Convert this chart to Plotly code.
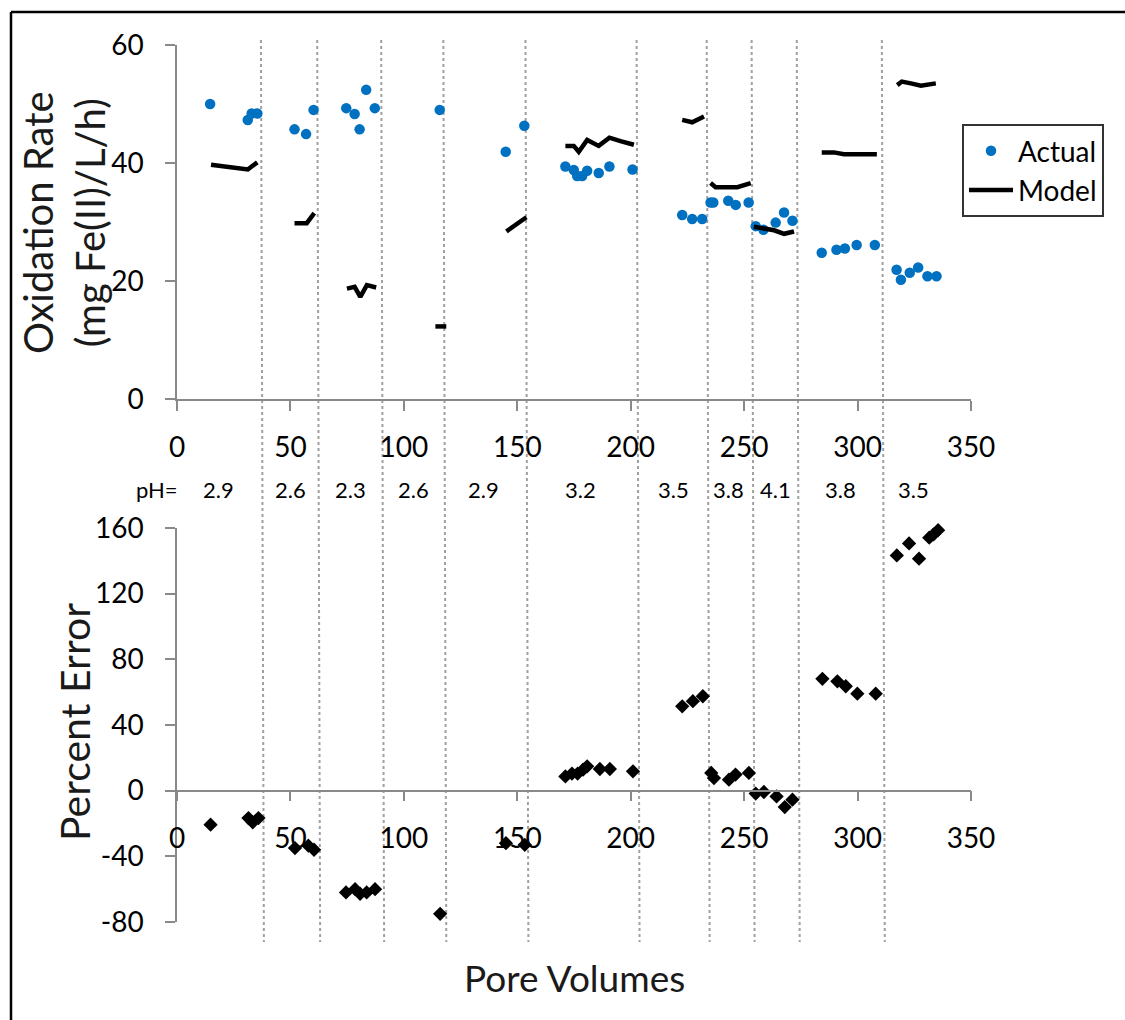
import plotly.graph_objects as go

# ---------------- data ----------------
actual_x = [14.6, 31.2, 32.9, 35.4, 51.8, 56.9, 60.2, 74.6, 78.3, 80.5, 83.4, 87.2, 115.8,
            144.9, 153.1, 171.2, 174.9, 176.4, 178.6, 180.8, 185.9, 190.6, 200.8, 222.7,
            227.1, 231.5, 235.2, 236.4, 243.0, 246.3, 252.0, 255.1, 258.5, 263.9, 267.6,
            271.3, 284.2, 290.7, 294.4, 299.6, 307.6, 317.2, 319.1, 323.0, 326.7, 330.8, 334.8]
actual_y = [50.0, 47.3, 48.4, 48.4, 45.7, 44.9, 49.0, 49.3, 48.3, 45.7, 52.4, 49.3, 49.0,
            41.9, 46.3, 39.4, 38.8, 37.8, 37.8, 38.7, 38.3, 39.4, 38.9, 31.2,
            30.5, 30.5, 33.3, 33.3, 33.6, 32.9, 33.3, 29.3, 28.7, 29.9, 31.6,
            30.2, 24.8, 25.3, 25.5, 26.1, 26.1, 21.9, 20.2, 21.4, 22.3, 20.8, 20.8]

model_x = [15.0, 31.2, 32.9, 35.4, None,
           51.8, 57.2, 60.5, None,
           74.9, 78.3, 80.8, 83.7, 87.8, None,
           113.9, 118.7, None,
           145.2, 154.0, None,
           171.2, 174.9, 177.1, 180.8, 185.9, 190.6, 195.5, 201.4, None,
           222.7, 227.1, 232.3, None,
           235.2, 237.4, 247.0, 252.9, None,
           254.3, 258.5, 263.2, 267.6, 272.0, None,
           284.2, 289.6, 294.0, 308.5, None,
           317.5, 319.5, 323.5, 327.9, 334.5]
model_y = [39.7, 38.9, 39.4, 40.1, None,
           29.8, 29.8, 31.5, None,
           18.7, 19.0, 17.3, 19.3, 18.9, None,
           12.3, 12.3, None,
           28.4, 30.8, None,
           42.9, 42.9, 41.9, 43.9, 42.9, 44.3, 43.7, 43.1, None,
           47.3, 46.9, 47.9, None,
           36.6, 35.9, 35.9, 36.6, None,
           29.2, 28.9, 28.6, 28.0, 28.4, None,
           41.8, 41.8, 41.5, 41.5, None,
           53.2, 53.8, 53.5, 53.1, 53.5]

error_x = [14.8, 31.5, 33.4, 35.9, 52.0, 57.9, 60.4, 74.5, 78.5, 80.7, 83.6, 87.3, 116.0,
           145.0, 153.3, 171.2, 174.1, 176.6, 179.0, 180.8, 186.4, 190.8, 201.0, 222.7,
           227.4, 231.8, 235.5, 236.7, 243.3, 246.2, 252.1, 255.1, 258.7, 264.3, 267.9,
           271.3, 284.5, 291.1, 294.8, 299.9, 308.0, 317.3, 322.7, 327.1, 331.6, 333.5, 335.5]
error_y = [-20.7, -16.7, -19.3, -16.7, -35.0, -33.5, -36.0, -62.0, -60.0, -62.8, -62.0, -60.0, -75.0,
           -32.0, -33.0, 8.7, 10.4, 10.4, 12.8, 14.8, 13.2, 13.2, 11.8, 51.4,
           54.5, 57.5, 10.8, 7.7, 6.7, 9.8, 10.8, -1.8, -0.8, -3.5, -10.0,
           -5.5, 68.1, 66.6, 63.6, 59.1, 59.1, 143.3, 150.6, 141.3, 154.1, 156.1, 158.7]

ph_boundaries = [37.0, 61.8, 90.0, 117.4, 153.6, 202.6, 233.5, 253.3, 273.2, 310.7]
ph_labels = ["2.9", "2.6", "2.3", "2.6", "2.9", "3.2", "3.5", "3.8", "4.1", "3.8", "3.5"]
ph_label_x = [18.5, 49.9, 76.3, 104.1, 135.0, 177.8, 218.9, 243.2, 263.9, 292.6, 324.8]

x_range = [0, 350]
x_ticks = [0, 50, 100, 150, 200, 250, 300, 350]
top_range = [0, 60]
top_ticks = [0, 20, 40, 60]
bot_range = [-80, 160]
bot_ticks = [-80, -40, 0, 40, 80, 120, 160]

# ---------------- layout geometry ----------------
W, H = 1125, 1020
ML, MR, MT, MB = 177, 154, 45, 98
PW, PH = W - ML - MR, H - MT - MB


def px(xpix):
    return (xpix - ML) / PW


def py(ypix):
    return (H - MB - ypix) / PH


top_dom = [py(399), 1.0]
bot_dom = [0.0, py(528)]
zero_pos = bot_dom[0] + (0 - bot_range[0]) / (bot_range[1] - bot_range[0]) * (bot_dom[1] - bot_dom[0])

FONT = "Lato"
AX = "#898989"

fig = go.Figure()
fig.add_trace(go.Scatter(x=actual_x, y=actual_y, mode="markers", name="Actual",
                         marker=dict(color="#0070C0", size=10.5), cliponaxis=False,
                         xaxis="x", yaxis="y"))
fig.add_trace(go.Scatter(x=model_x, y=model_y, mode="lines", name="Model",
                         line=dict(color="black", width=4.5), cliponaxis=False,
                         xaxis="x", yaxis="y"))
fig.add_trace(go.Scatter(x=error_x, y=error_y, mode="markers", name="Percent Error",
                         marker=dict(color="black", symbol="diamond", size=11),
                         showlegend=False, cliponaxis=False, xaxis="x2", yaxis="y2"))

axis_common = dict(showgrid=False, zeroline=False, showline=True, linecolor=AX, linewidth=1.5,
                   ticks="outside", ticklen=10, tickcolor=AX, tickwidth=1.5,
                   tickfont=dict(family=FONT, size=28, color="black"))


def tt(vals):
    return [str(v) for v in vals]


fig.update_layout(
    width=W, height=H,
    margin=dict(l=ML, r=MR, t=MT, b=MB),
    paper_bgcolor="white", plot_bgcolor="white",
    font=dict(family=FONT, color="black"),
    xaxis=dict(domain=[0, 1], range=x_range, tickvals=x_ticks, ticktext=tt(x_ticks),
               anchor="y", ticklabelstandoff=13, **axis_common),
    yaxis=dict(domain=top_dom, range=top_range, tickvals=top_ticks, ticktext=tt(top_ticks),
               anchor="x", ticklabelstandoff=16, **axis_common),
    xaxis2=dict(domain=[0, 1], range=x_range, tickvals=x_ticks, ticktext=tt(x_ticks),
                anchor="free", position=zero_pos, ticklabelstandoff=13, **axis_common),
    yaxis2=dict(domain=bot_dom, range=bot_range, tickvals=bot_ticks, ticktext=tt(bot_ticks),
                anchor="x2", ticklabelstandoff=16, **axis_common),
    legend=dict(x=px(962), y=py(124), xanchor="left", yanchor="top",
                bgcolor="white", bordercolor="#333333", borderwidth=2,
                font=dict(family=FONT, size=28, color="black"), itemwidth=44,
                tracegroupgap=4),
    showlegend=True,
)

shapes = []
for b in ph_boundaries:
    shapes.append(dict(type="line", xref="x", yref="paper", x0=b, x1=b + 1.3,
                       y0=py(40), y1=py(942),
                       line=dict(color="#A0A0A0", width=2, dash="dot"), layer="below"))
# outer frame (left and top)
shapes.append(dict(type="line", xref="paper", yref="paper", x0=px(11), x1=px(11),
                   y0=py(12), y1=py(1025), line=dict(color="black", width=2.5)))
shapes.append(dict(type="line", xref="paper", yref="paper", x0=px(11), x1=px(1130),
                   y0=py(12), y1=py(12), line=dict(color="black", width=2.5)))
fig.update_layout(shapes=shapes)

ann = []
ph_y = py(490)
ann.append(dict(xref="paper", yref="paper", x=px(157), y=ph_y, text="pH=", showarrow=False,
                xanchor="center", yanchor="middle",
                font=dict(family=FONT, size=22, color="black")))
for lab, xp in zip(ph_labels, ph_label_x):
    ann.append(dict(xref="x", yref="paper", x=xp, y=ph_y, text=lab, showarrow=False,
                    xanchor="center", yanchor="middle",
                    font=dict(family=FONT, size=22, color="black")))
ann.append(dict(xref="paper", yref="paper", x=px(64), y=py(223),
                text="Oxidation Rate<br>(mg Fe(II)/L/h)", textangle=-90, showarrow=False,
                xanchor="center", yanchor="middle",
                font=dict(family=FONT, size=40, color="#1a1a1a")))
ann.append(dict(xref="paper", yref="paper", x=px(74), y=py(722),
                text="Percent Error", textangle=-90, showarrow=False,
                xanchor="center", yanchor="middle",
                font=dict(family=FONT, size=41, color="#1a1a1a")))
ann.append(dict(xref="paper", yref="paper", x=0.5, y=py(977),
                text="Pore Volumes", showarrow=False,
                xanchor="center", yanchor="middle",
                font=dict(family=FONT, size=37, color="#1a1a1a")))
fig.update_layout(annotations=ann)

fig.write_html("out.html")
